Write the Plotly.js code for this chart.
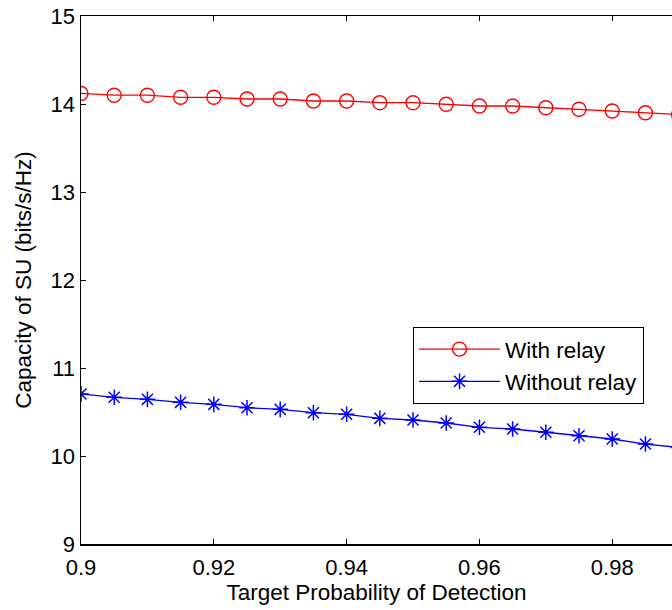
<!DOCTYPE html>
<html>
<head>
<meta charset="utf-8">
<script src="https://cdn.plot.ly/plotly-3.0.1.min.js"></script>
<style>html,body{margin:0;padding:0;background:#fff;overflow:hidden;}</style>
</head>
<body>
<div id="chart" style="width:672px;height:610px;"></div>
<script>
const pd = [0.9,0.905,0.91,0.915,0.92,0.925,0.93,0.935,0.94,0.945,0.95,0.955,0.96,0.965,0.97,0.975,0.98,0.985,0.99];
const withRelay = [14.12,14.10,14.10,14.076,14.076,14.057,14.057,14.034,14.034,14.015,14.015,13.997,13.977,13.977,13.958,13.94,13.92,13.90,13.88];
const withoutRelay = [10.705,10.667,10.644,10.61,10.587,10.549,10.53,10.492,10.474,10.428,10.409,10.375,10.326,10.307,10.27,10.23,10.193,10.136,10.097];
const xTicks = [0.9,0.92,0.94,0.96,0.98];
const yTicks = [9,10,11,12,13,14,15];

const fam = 'Liberation Sans, Arial, sans-serif';
const tickFont = {family: fam, size: 22, color: '#000'};
const titleFont = {family: fam, size: 22.5, color: '#000'};
const legFont = {family: fam, size: 22.5, color: '#000'};

const traces = [
  {x: pd, y: withRelay, name: 'With relay', mode: 'lines+markers',
   line: {color: '#ff0000', width: 1.3},
   marker: {symbol: 'circle-open', size: 14, color: '#ff0000', line: {width: 1.4, color: '#ff0000'}}},
  {x: pd, y: withoutRelay, name: 'Without relay', mode: 'lines+markers',
   line: {color: '#0000ff', width: 1.3},
   marker: {symbol: 'asterisk-open', size: 13, color: '#0000ff', line: {width: 1.5, color: '#0000ff'}}}
];

const layout = {
  width: 672, height: 610,
  margin: {l: 81, r: 0, t: 16, b: 66},
  paper_bgcolor: '#fff', plot_bgcolor: '#fff',
  font: tickFont,
  showlegend: true,
  legend: {x: 0.5618, y: 0.411, xanchor: 'left', yanchor: 'top',
           bgcolor: '#fff', bordercolor: '#000', borderwidth: 1,
           font: legFont, tracegroupgap: 0, itemwidth: 81},
  xaxis: {
    range: [0.9, 0.989], tickvals: xTicks, ticktext: xTicks.map(String),
    ticks: 'inside', ticklen: 5, tickcolor: '#000', tickwidth: 1,
    showline: true, linecolor: '#000', linewidth: 1.5, mirror: 'ticks',
    showgrid: false, zeroline: false,
    tickfont: tickFont, ticklabelstandoff: 3,
    title: {text: 'Target Probability of Detection', font: titleFont, standoff: 2}
  },
  yaxis: {
    range: [9, 15], tickvals: yTicks, ticktext: yTicks.map(String),
    ticks: 'inside', ticklen: 5, tickcolor: '#000', tickwidth: 1,
    showline: true, linecolor: '#000', linewidth: 1.5, mirror: false,
    showgrid: false, zeroline: false,
    tickfont: tickFont,
    title: {text: 'Capacity of SU (bits/s/Hz)', font: titleFont, standoff: 12}
  }
};

Plotly.newPlot('chart', traces, layout, {displayModeBar: false, staticPlot: true});
</script>
</body>
</html>
